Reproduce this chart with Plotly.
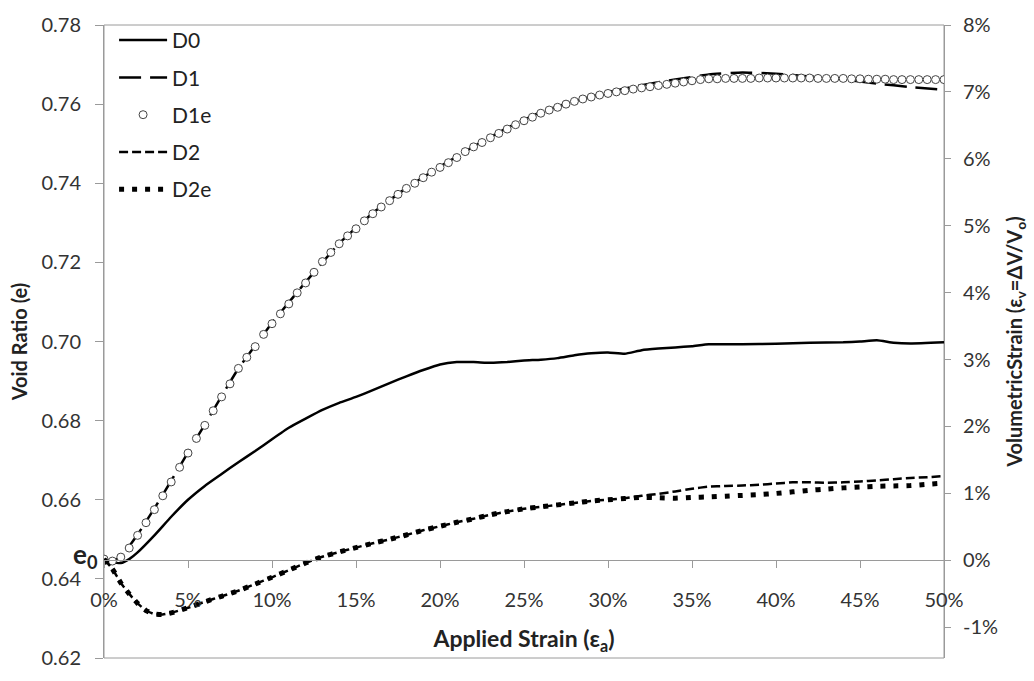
import plotly.graph_objects as go

# Initial void ratio of the specimens
E0 = 0.645

# Applied axial strain (%) and void ratio for each test
D0_X = [0, 0.5, 1, 1.5, 2, 3, 4, 5, 6, 7, 8, 9, 10, 11, 12, 13, 14, 15, 16, 17,
        18, 19, 20, 21, 22, 23, 24, 25, 26, 27, 28, 29, 30, 31, 32, 33, 34, 35,
        36, 38, 40, 42, 44, 45, 46, 47, 48, 50]
D0_E = [0.6450, 0.6442, 0.6440, 0.6450, 0.6467, 0.6510, 0.6557, 0.6600, 0.6635,
        0.6665, 0.6695, 0.6723, 0.6753, 0.6782, 0.6805, 0.6827, 0.6845, 0.6860,
        0.6877, 0.6895, 0.6912, 0.6928, 0.6942, 0.6948, 0.6948, 0.6946, 0.6948,
        0.6952, 0.6954, 0.6958, 0.6965, 0.6970, 0.6972, 0.6969, 0.6978, 0.6982,
        0.6985, 0.6988, 0.6993, 0.6993, 0.6994, 0.6997, 0.6998, 0.7000, 0.7003,
        0.6997, 0.6995, 0.6998]

D1_X = [0, 0.5, 1, 2, 3, 4, 5, 6, 7, 8, 9, 10, 12, 14, 16, 18, 20, 22, 24, 26,
        28, 30, 32, 34, 36, 38, 40, 42, 44, 46, 48, 50]
D1_E = [0.6450, 0.6445, 0.6455, 0.6512, 0.6578, 0.6648, 0.6720, 0.6790, 0.6862,
        0.6932, 0.6990, 0.7047, 0.7150, 0.7248, 0.7325, 0.7388, 0.7442, 0.7493,
        0.7540, 0.7580, 0.7607, 0.7630, 0.7648, 0.7662, 0.7675, 0.7680, 0.7677,
        0.7670, 0.7662, 0.7652, 0.7643, 0.7636]

# D1e is sampled every 0.5 % of axial strain
D1E_X = [0, 0.5, 1, 1.5, 2, 2.5, 3, 3.5, 4, 4.5,
         5, 5.5, 6, 6.5, 7, 7.5, 8, 8.5, 9, 9.5,
         10, 10.5, 11, 11.5, 12, 12.5, 13, 13.5, 14, 14.5,
         15, 15.5, 16, 16.5, 17, 17.5, 18, 18.5, 19, 19.5,
         20, 20.5, 21, 21.5, 22, 22.5, 23, 23.5, 24, 24.5,
         25, 25.5, 26, 26.5, 27, 27.5, 28, 28.5, 29, 29.5,
         30, 30.5, 31, 31.5, 32, 32.5, 33, 33.5, 34, 34.5,
         35, 35.5, 36, 36.5, 37, 37.5, 38, 38.5, 39, 39.5,
         40, 40.5, 41, 41.5, 42, 42.5, 43, 43.5, 44, 44.5,
         45, 45.5, 46, 46.5, 47, 47.5, 48, 48.5, 49, 49.5,
         50]
D1E_E = [0.6450, 0.6445, 0.6455, 0.6478, 0.6510, 0.6542, 0.6575, 0.6610, 0.6645, 0.6682,
         0.6718, 0.6755, 0.6788, 0.6825, 0.6860, 0.6893, 0.6932, 0.6960, 0.6987, 0.7018,
         0.7045, 0.7070, 0.7095, 0.7123, 0.7148, 0.7175, 0.7202, 0.7225, 0.7247, 0.7267,
         0.7285, 0.7305, 0.7323, 0.7340, 0.7356, 0.7372, 0.7387, 0.7400, 0.7414, 0.7428,
         0.7440, 0.7452, 0.7465, 0.7480, 0.7492, 0.7503, 0.7515, 0.7526, 0.7537, 0.7548,
         0.7558, 0.7567, 0.7577, 0.7585, 0.7592, 0.7600, 0.7607, 0.7613, 0.7618, 0.7623,
         0.7627, 0.7631, 0.7634, 0.7638, 0.7641, 0.7644, 0.7647, 0.7650, 0.7653, 0.7656,
         0.7659, 0.7662, 0.7664, 0.7664, 0.7665, 0.7665, 0.7665, 0.7665, 0.7666, 0.7666,
         0.7666, 0.7666, 0.7666, 0.7666, 0.7666, 0.7665, 0.7665, 0.7665, 0.7665, 0.7664,
         0.7664, 0.7663, 0.7663, 0.7663, 0.7662, 0.7662, 0.7662, 0.7662, 0.7662, 0.7662,
         0.7662]

D2_X = [0, 0.5, 1, 1.5, 2, 2.5, 3, 3.5, 4, 5, 6, 7, 8, 9, 10, 11, 12, 13, 14, 15,
        16, 17, 18, 19, 20, 21, 22, 23, 24, 25, 26, 27, 28, 29, 30, 31, 32, 33, 34,
        35, 36, 37, 38, 39, 40, 41, 42, 43, 44, 45, 46, 47, 48, 49, 50]
D2_E = [0.6450, 0.6425, 0.6390, 0.6362, 0.6338, 0.6320, 0.6311, 0.6310, 0.6314,
        0.6327, 0.6342, 0.6356, 0.6370, 0.6387, 0.6404, 0.6422, 0.6440, 0.6456,
        0.6468, 0.6479, 0.6490, 0.6500, 0.6511, 0.6523, 0.6533, 0.6543, 0.6552,
        0.6562, 0.6570, 0.6577, 0.6582, 0.6587, 0.6592, 0.6597, 0.6600, 0.6604,
        0.6610, 0.6615, 0.6621, 0.6628, 0.6633, 0.6635, 0.6636, 0.6638, 0.6641,
        0.6644, 0.6644, 0.6643, 0.6644, 0.6646, 0.6649, 0.6652, 0.6655, 0.6657,
        0.6660]

D2E_X = D2_X
D2E_E = [0.6450, 0.6425, 0.6390, 0.6362, 0.6338, 0.6320, 0.6311, 0.6310, 0.6314,
         0.6327, 0.6342, 0.6356, 0.6370, 0.6387, 0.6404, 0.6422, 0.6440, 0.6456,
         0.6468, 0.6479, 0.6490, 0.6500, 0.6511, 0.6523, 0.6533, 0.6543, 0.6552,
         0.6562, 0.6570, 0.6577, 0.6582, 0.6587, 0.6592, 0.6597, 0.6600, 0.6603,
         0.6606, 0.6605, 0.6604, 0.6606, 0.6607, 0.6609, 0.6611, 0.6613, 0.6616,
         0.6620, 0.6624, 0.6627, 0.6630, 0.6632, 0.6634, 0.6635, 0.6636, 0.6639,
         0.6642]

# Axis scales and tick labels
X_TICKS = [0, 5, 10, 15, 20, 25, 30, 35, 40, 45, 50]
X_TICK_LABELS = ["0%", "5%", "10%", "15%", "20%", "25%", "30%", "35%", "40%", "45%", "50%"]
E_RANGE = [0.62, 0.78]
VS_RANGE = [-1.46, 8.0]          # volumetric strain, %
VS_TICKS = [-1, 0, 1, 2, 3, 4, 5, 6, 7, 8]
VS_TICK_LABELS = ["-1%", "0%", "1%", "2%", "3%", "4%", "5%", "6%", "7%", "8%"]

FONT = "Lato"
AXIS_GREY = "#9a9a9a"
TEXT = "#333333"

fig = go.Figure()

fig.add_trace(go.Scatter(
    x=D0_X, y=D0_E, name="D0", mode="lines", legendgroup="D0",
    line=dict(color="black", width=2.5, shape="spline", smoothing=0.4)))
fig.add_trace(go.Scatter(
    x=D1_X, y=D1_E, name="D1", mode="lines", legendgroup="D1",
    line=dict(color="black", width=2.5, dash="22px,9px", shape="spline", smoothing=0.4)))
fig.add_trace(go.Scatter(
    x=D1E_X, y=D1E_E, name="D1e", mode="markers", legendgroup="D1e",
    marker=dict(symbol="circle", size=8, color="white",
                line=dict(color="#444444", width=1))))
fig.add_trace(go.Scatter(
    x=D2_X, y=D2_E, name="D2", mode="lines", legendgroup="D2",
    line=dict(color="black", width=2.5, dash="9px,4px", shape="spline", smoothing=0.4)))
fig.add_trace(go.Scatter(
    x=D2E_X, y=D2E_E, name="D2e", mode="lines", legendgroup="D2e",
    line=dict(color="black", width=5, dash="5px,8px", shape="spline", smoothing=0.4)))

# Carrier for the volumetric-strain axis on the right
fig.add_trace(go.Scatter(x=[None], y=[None], yaxis="y2", showlegend=False,
                         hoverinfo="skip", mode="lines"))

# The strain axis sits on the 0 % volumetric-strain line
x_axis_pos = (0 - VS_RANGE[0]) / (VS_RANGE[1] - VS_RANGE[0])

fig.update_layout(
    width=1034, height=681,
    margin=dict(l=104, r=83, t=18, b=12),
    paper_bgcolor="white", plot_bgcolor="white",
    font=dict(family=FONT, size=20, color=TEXT),
    showlegend=True,
    legend=dict(x=0.012, y=1.008, xanchor="left", yanchor="top",
                font=dict(family=FONT, size=21, color="#222222"),
                bgcolor="rgba(0,0,0,0)", traceorder="grouped",
                tracegroupgap=7, itemwidth=48),
    xaxis=dict(
        range=[0, 50], tickvals=X_TICKS, ticktext=X_TICK_LABELS,
        anchor="free", position=x_axis_pos,
        showline=True, linecolor=AXIS_GREY, linewidth=1,
        ticks="outside", ticklen=7, tickcolor=AXIS_GREY,
        ticklabelstandoff=15,
        tickfont=dict(family=FONT, size=20, color=TEXT),
        showgrid=False, zeroline=False,
        title=dict(text="<b>Applied Strain (ε<sub>a</sub>)</b>",
                   font=dict(family=FONT, size=23, color="#222222"),
                   standoff=20),
    ),
    yaxis=dict(
        range=E_RANGE, dtick=0.02, tickformat=".2f",
        showline=True, linecolor=AXIS_GREY, linewidth=1,
        ticks="outside", ticklen=8, tickcolor=AXIS_GREY,
        ticklabelstandoff=10,
        tickfont=dict(family=FONT, size=20, color=TEXT),
        showgrid=False, zeroline=False,
        title=dict(text="<b>Void Ratio (e)</b>",
                   font=dict(family=FONT, size=20, color="#222222"),
                   standoff=8),
    ),
    yaxis2=dict(
        overlaying="y", side="right", anchor="x",
        range=VS_RANGE, tickvals=VS_TICKS, ticktext=VS_TICK_LABELS,
        showline=True, linecolor=AXIS_GREY, linewidth=1,
        ticks="outside", ticklen=6, tickcolor=AXIS_GREY,
        ticklabelstandoff=8,
        tickfont=dict(family=FONT, size=20, color=TEXT),
        showgrid=False, zeroline=False,
        title=dict(text="<b>VolumetricStrain (ε<sub>v</sub>=ΔV/V<sub>o</sub>)</b>",
                   font=dict(family=FONT, size=20, color="#222222"),
                   standoff=10),
    ),
    shapes=[dict(type="rect", xref="paper", yref="paper", x0=0, x1=1, y0=0, y1=1,
                 line=dict(color=AXIS_GREY, width=1), layer="below")],
    annotations=[dict(text="<b>e<sub>0</sub></b>", x=0, xref="paper", y=E0, yref="y",
                      xanchor="right", yanchor="middle", xshift=-4, yshift=4,
                      showarrow=False, font=dict(family=FONT, size=26, color="#222222"))],
)

fig.write_html("out.html")
